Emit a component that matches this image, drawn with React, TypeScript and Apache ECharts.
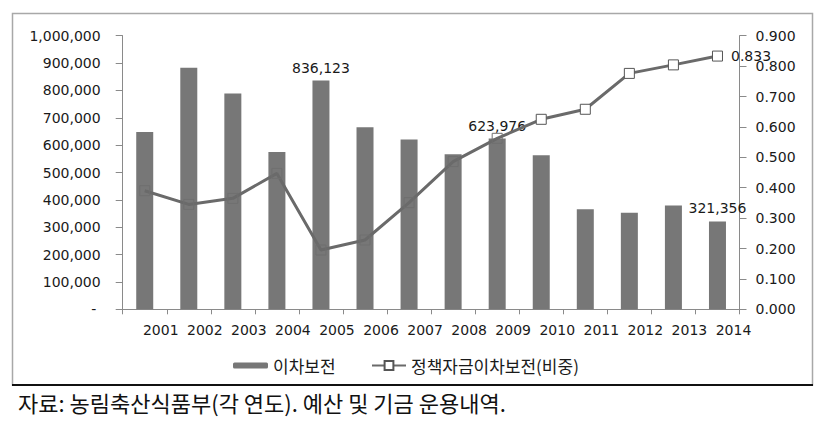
import React, { useEffect, useRef } from "react";
import * as echarts from "echarts";

const years = ["2001", "2002", "2003", "2004", "2005", "2006", "2007", "2008", "2009", "2010", "2011", "2012", "2013", "2014"];
const subsidyValues = [648000, 883000, 789000, 575000, 836123, 665000, 621000, 566500, 623976, 563000, 365500, 353000, 379000, 321356];
const shareValues = [0.39, 0.345, 0.365, 0.447, 0.195, 0.228, 0.351, 0.486, 0.5625, 0.625, 0.658, 0.776, 0.804, 0.833];
const labeledBarYears = ["2005", "2009", "2014"];
const labeledShareYears = ["2014"];
const barSeriesName = "이차보전";
const lineSeriesName = "정책자금이차보전(비중)";
const sourceNote = "자료: 농림축산식품부(각 연도). 예산 및 기금 운용내역.";

const NUM_FONT = "'DejaVu Sans', Verdana, sans-serif";
const KR_FONT = "'Noto Sans CJK KR', sans-serif";

export default function App() {
  const ref = useRef<HTMLDivElement>(null);

  useEffect(() => {
    if (!ref.current) return;
    const chart = echarts.init(ref.current, null, { renderer: "svg" });
    const axisGrey = "#8a8a8a";
    const textColor = "#1a1a1a";

    const barData = subsidyValues.map((v, i) => ({
      value: v,
      label: { show: labeledBarYears.includes(years[i]) },
    }));
    const lineData = shareValues.map((v, i) => {
      const overBar = i < 9;
      return {
        value: v,
        itemStyle: overBar
          ? { color: "rgba(0,0,0,0)", borderColor: "#6f6f6f", borderWidth: 1 }
          : { color: "#ffffff", borderColor: "#555555", borderWidth: 1 },
        label: { show: labeledShareYears.includes(years[i]) },
      };
    });

    chart.setOption({
      animation: false,
      backgroundColor: "#ffffff",
      grid: { left: 122.7, right: 94.5, top: 35.7, bottom: 114.7, containLabel: false },
      legend: [
        {
          data: [barSeriesName],
          left: 228,
          top: 352,
          itemWidth: 35,
          itemHeight: 6,
          itemGap: 5,
          textStyle: { fontFamily: KR_FONT, fontSize: 17, color: textColor },
        },
        {
          data: [lineSeriesName],
          left: 366,
          top: 352,
          itemWidth: 34,
          itemHeight: 11,
          itemGap: 5,
          textStyle: { fontFamily: KR_FONT, fontSize: 17, color: textColor },
        },
      ],
      xAxis: {
        type: "category",
        data: years,
        boundaryGap: true,
        axisLine: { lineStyle: { color: axisGrey, width: 1 } },
        axisTick: { show: true, interval: 0, length: 5, lineStyle: { color: axisGrey } },
        axisLabel: {
          interval: 0,
          margin: 14,
          fontFamily: NUM_FONT,
          fontSize: 14,
          color: textColor,
          padding: [0, 0, 0, 32],
        },
      },
      yAxis: [
        {
          type: "value",
          min: 0,
          max: 1000000,
          interval: 100000,
          splitLine: { show: false },
          axisLine: { show: true, lineStyle: { color: axisGrey } },
          axisTick: { show: true, length: 7, lineStyle: { color: axisGrey } },
          axisLabel: {
            margin: 22,
            fontFamily: NUM_FONT,
            fontSize: 14,
            color: textColor,
            formatter: (v: number) => (v === 0 ? "- " : v.toLocaleString("en-US")),
          },
        },
        {
          type: "value",
          min: 0,
          max: 0.9,
          interval: 0.1,
          splitLine: { show: false },
          axisLine: { show: true, lineStyle: { color: axisGrey } },
          axisTick: { show: true, length: 7, lineStyle: { color: axisGrey } },
          axisLabel: {
            margin: 16,
            fontFamily: NUM_FONT,
            fontSize: 14,
            color: textColor,
            formatter: (v: number) => v.toFixed(3),
          },
        },
      ],
      series: [
        {
          name: barSeriesName,
          type: "bar",
          yAxisIndex: 0,
          barWidth: 17,
          itemStyle: { color: "#777777" },
          label: {
            position: "top",
            distance: 6,
            fontFamily: NUM_FONT,
            fontSize: 14,
            color: textColor,
            formatter: (p: any) => Number(p.value).toLocaleString("en-US"),
          },
          data: barData,
          z: 2,
        },
        {
          name: lineSeriesName,
          type: "line",
          yAxisIndex: 1,
          symbol: "rect",
          symbolSize: 10,
          showAllSymbol: true,
          lineStyle: { color: "#6a6a6a", width: 3 },
          itemStyle: { color: "#ffffff", borderColor: "#555555", borderWidth: 1 },
          label: {
            position: "right",
            distance: 8,
            fontFamily: NUM_FONT,
            fontSize: 14,
            color: textColor,
            formatter: (p: any) => Number(p.value).toFixed(3),
          },
          data: lineData,
          z: 3,
        },
      ],
      graphic: [
        {
          type: "rect",
          shape: { x: 12.5, y: 13.5, width: 800, height: 371.5 },
          style: { fill: "none", stroke: "#a8a8a8", lineWidth: 1.5 },
          silent: true,
        },
        {
          type: "line",
          shape: { x1: 12, y1: 385, x2: 813, y2: 385 },
          style: { stroke: "#111111", lineWidth: 2 },
          silent: true,
        },
        {
          type: "text",
          left: 18,
          top: 391,
          style: { text: sourceNote, fontFamily: KR_FONT, fontSize: 22, fill: "#111111" },
          silent: true,
        },
      ],
    });

    return () => chart.dispose();
  }, []);

  return (
    <div
      ref={ref}
      style={{ position: "fixed", left: 0, top: 0, width: 834, height: 424, background: "#fff" }}
    />
  );
}
